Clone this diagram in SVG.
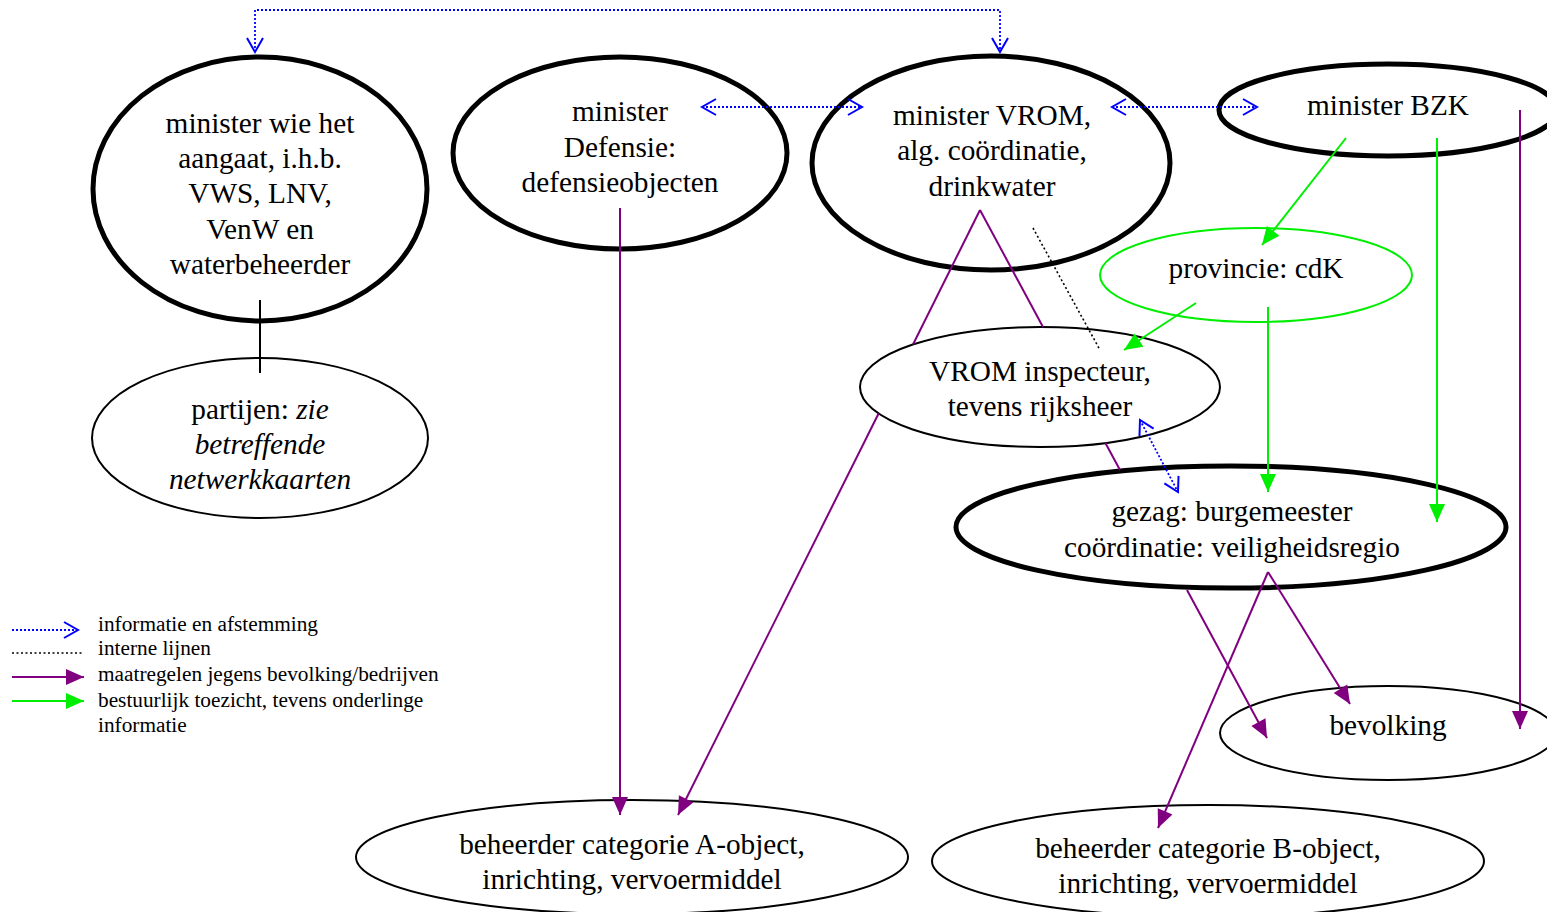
<svg xmlns="http://www.w3.org/2000/svg" width="1547" height="912" viewBox="0 0 1547 912">
<style>
.n{fill:#fff;stroke:#000;stroke-width:2}
.thick{stroke-width:5}
.grn{stroke:#00ee00;stroke-width:2}
text{font-family:"Liberation Serif","Times New Roman",serif;font-size:29.3px;fill:#000;text-anchor:middle}
.lg{font-size:21.3px;text-anchor:start}
.p{stroke:#800080;stroke-width:2;fill:none}
.g{stroke:#00ee00;stroke-width:2;fill:none}
.b{stroke:#0000ff;stroke-width:1.8;stroke-dasharray:2,2;fill:none}
.k{stroke:#000;stroke-width:1.6;stroke-dasharray:2,2.5;fill:none}
.s{stroke:#000;stroke-width:2;fill:none}
</style>
<defs>
<marker id="ap" markerUnits="userSpaceOnUse" markerWidth="20" markerHeight="20" refX="18" refY="9" orient="auto" overflow="visible"><path d="M0,1 L18,9 L0,17 z" fill="#800080"/></marker>
<marker id="ag" markerUnits="userSpaceOnUse" markerWidth="20" markerHeight="20" refX="18" refY="9" orient="auto" overflow="visible"><path d="M0,1 L18,9 L0,17 z" fill="#00ee00"/></marker>
<marker id="ab" markerUnits="userSpaceOnUse" markerWidth="20" markerHeight="20" refX="17" refY="9" orient="auto-start-reverse" overflow="visible"><path d="M3,1 L17,9 L3,17" fill="none" stroke="#0000ff" stroke-width="2"/></marker>
</defs>
<rect width="1547" height="912" fill="#fff"/>

<g id="n-wie"><ellipse class="n thick" cx="260" cy="189" rx="167" ry="132"/>
<text x="260" y="133">minister wie het</text><text x="260" y="168">aangaat, i.h.b.</text><text x="260" y="203">VWS, LNV,</text><text x="260" y="239">VenW en</text><text x="260" y="274">waterbeheerder</text></g>
<g id="n-partijen"><ellipse class="n" cx="260" cy="438" rx="168" ry="80"/>
<text x="260" y="419">partijen: <tspan font-style="italic">zie</tspan></text><text x="260" y="454" font-style="italic">betreffende</text><text x="260" y="489" font-style="italic">netwerkkaarten</text></g>
<g id="n-defensie"><ellipse class="n thick" cx="620" cy="153" rx="167" ry="96"/>
<text x="620" y="121">minister</text><text x="620" y="157">Defensie:</text><text x="620" y="192">defensieobjecten</text></g>
<g id="n-vrom"><ellipse class="n thick" cx="991" cy="163" rx="179" ry="107"/>
<text x="992" y="125">minister VROM,</text><text x="992" y="160">alg. coördinatie,</text><text x="992" y="196">drinkwater</text></g>
<g id="n-bzk"><ellipse class="n thick" cx="1388" cy="110" rx="169" ry="46"/>
<text x="1388" y="115">minister BZK</text></g>
<g id="n-provincie"><ellipse class="n grn" cx="1256" cy="275" rx="156" ry="47"/>
<text x="1256" y="278">provincie: cdK</text></g>
<g id="n-gezag"><ellipse class="n thick" cx="1231" cy="527" rx="275" ry="61"/>
<text x="1232" y="521">gezag: burgemeester</text><text x="1232" y="557">coördinatie: veiligheidsregio</text></g>
<g id="n-bevolking"><ellipse class="n" cx="1388" cy="733" rx="168" ry="47"/>
<text x="1388" y="735">bevolking</text></g>
<g id="n-catA"><ellipse class="n" cx="632" cy="857" rx="276" ry="57"/>
<text x="632" y="854">beheerder categorie A-object,</text><text x="632" y="889">inrichting, vervoermiddel</text></g>
<g id="n-catB"><ellipse class="n" cx="1208" cy="861" rx="276" ry="56"/>
<text x="1208" y="858">beheerder categorie B-object,</text><text x="1208" y="893">inrichting, vervoermiddel</text></g>
<g id="n-inspecteur"><ellipse class="n" cx="1040" cy="387" rx="180" ry="60"/>
<text x="1040" y="381">VROM inspecteur,</text><text x="1040" y="416">tevens rijksheer</text></g>

<g id="connectors">
<path class="s" d="M260,300 V373"/>
<path class="b" d="M255,52 V10 H1000 V52" marker-start="url(#ab)" marker-end="url(#ab)"/>
<path class="b" d="M702,107 H862" marker-start="url(#ab)" marker-end="url(#ab)"/>
<path class="b" d="M1112,107 H1257" marker-start="url(#ab)" marker-end="url(#ab)"/>
<path class="b" d="M1140,420 L1178,492" marker-start="url(#ab)" marker-end="url(#ab)"/>
<path class="k" d="M1033,228 L1100,350"/>
<path class="p" d="M620,208 V815" marker-end="url(#ap)"/>
<path class="p" d="M980,210 L913,344.5"/>
<path class="p" d="M878.6,413.5 L678,815" marker-end="url(#ap)"/>
<path class="p" d="M980,210 L1043,327"/>
<path class="p" d="M1105.4,443 L1120,470"/>
<path class="p" d="M1268,572 L1158,828" marker-end="url(#ap)"/>
<path class="p" d="M1268,572 L1350,704" marker-end="url(#ap)"/>
<path class="p" d="M1187,590 L1267,738" marker-end="url(#ap)"/>
<path class="p" d="M1520,110 V729" marker-end="url(#ap)"/>
<path class="g" d="M1346,138 L1262,245" marker-end="url(#ag)"/>
<path class="g" d="M1437,138 V522" marker-end="url(#ag)"/>
<path class="g" d="M1196,303 L1124,350" marker-end="url(#ag)"/>
<path class="g" d="M1268,307 V492" marker-end="url(#ag)"/>
</g>

<g id="legend">
<path class="b" d="M12,630 H78" marker-end="url(#ab)"/>
<path class="k" d="M12,653 H82"/>
<path class="p" d="M12,677 H84" marker-end="url(#ap)"/>
<path class="g" d="M12,701 H84" marker-end="url(#ag)"/>
<text class="lg" x="98" y="631">informatie en afstemming</text>
<text class="lg" x="98" y="655">interne lijnen</text>
<text class="lg" x="98" y="681">maatregelen jegens bevolking/bedrijven</text>
<text class="lg" x="98" y="707">bestuurlijk toezicht, tevens onderlinge</text>
<text class="lg" x="98" y="732">informatie</text>
</g>
</svg>
